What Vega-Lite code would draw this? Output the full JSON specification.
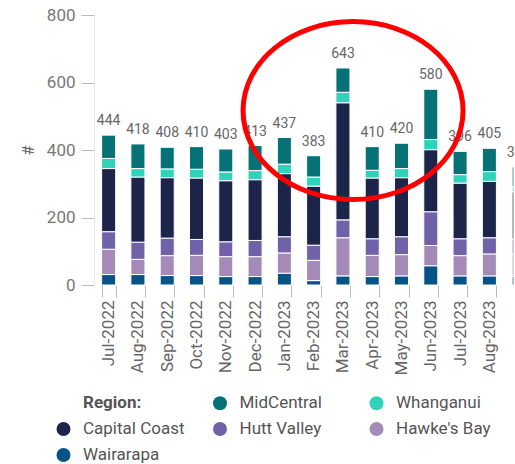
{
  "$schema": "https://vega.github.io/schema/vega-lite/v6.json",
  "width": 420,
  "height": 270,
  "padding": {"left": 20, "top": 6, "right": 0, "bottom": 0},
  "autosize": {"type": "pad"},
  "config": {"view": {"stroke": null}, "font": "Roboto"},
  "datasets": {
    "counts": [
      {"month": "Jul-2022", "region": "Wairarapa", "value": 31},
      {"month": "Jul-2022", "region": "Hawke's Bay", "value": 75},
      {"month": "Jul-2022", "region": "Hutt Valley", "value": 52},
      {"month": "Jul-2022", "region": "Capital Coast", "value": 187},
      {"month": "Jul-2022", "region": "Whanganui", "value": 30},
      {"month": "Jul-2022", "region": "MidCentral", "value": 69},
      {"month": "Aug-2022", "region": "Wairarapa", "value": 31},
      {"month": "Aug-2022", "region": "Hawke's Bay", "value": 45},
      {"month": "Aug-2022", "region": "Hutt Valley", "value": 51},
      {"month": "Aug-2022", "region": "Capital Coast", "value": 193},
      {"month": "Aug-2022", "region": "Whanganui", "value": 25},
      {"month": "Aug-2022", "region": "MidCentral", "value": 73},
      {"month": "Sep-2022", "region": "Wairarapa", "value": 28},
      {"month": "Sep-2022", "region": "Hawke's Bay", "value": 59},
      {"month": "Sep-2022", "region": "Hutt Valley", "value": 52},
      {"month": "Sep-2022", "region": "Capital Coast", "value": 179},
      {"month": "Sep-2022", "region": "Whanganui", "value": 26},
      {"month": "Sep-2022", "region": "MidCentral", "value": 64},
      {"month": "Oct-2022", "region": "Wairarapa", "value": 28},
      {"month": "Oct-2022", "region": "Hawke's Bay", "value": 60},
      {"month": "Oct-2022", "region": "Hutt Valley", "value": 47},
      {"month": "Oct-2022", "region": "Capital Coast", "value": 182},
      {"month": "Oct-2022", "region": "Whanganui", "value": 26},
      {"month": "Oct-2022", "region": "MidCentral", "value": 67},
      {"month": "Nov-2022", "region": "Wairarapa", "value": 25},
      {"month": "Nov-2022", "region": "Hawke's Bay", "value": 59},
      {"month": "Nov-2022", "region": "Hutt Valley", "value": 44},
      {"month": "Nov-2022", "region": "Capital Coast", "value": 181},
      {"month": "Nov-2022", "region": "Whanganui", "value": 26},
      {"month": "Nov-2022", "region": "MidCentral", "value": 68},
      {"month": "Dec-2022", "region": "Wairarapa", "value": 25},
      {"month": "Dec-2022", "region": "Hawke's Bay", "value": 59},
      {"month": "Dec-2022", "region": "Hutt Valley", "value": 48},
      {"month": "Dec-2022", "region": "Capital Coast", "value": 180},
      {"month": "Dec-2022", "region": "Whanganui", "value": 27},
      {"month": "Dec-2022", "region": "MidCentral", "value": 74},
      {"month": "Jan-2023", "region": "Wairarapa", "value": 35},
      {"month": "Jan-2023", "region": "Hawke's Bay", "value": 60},
      {"month": "Jan-2023", "region": "Hutt Valley", "value": 48},
      {"month": "Jan-2023", "region": "Capital Coast", "value": 187},
      {"month": "Jan-2023", "region": "Whanganui", "value": 28},
      {"month": "Jan-2023", "region": "MidCentral", "value": 79},
      {"month": "Feb-2023", "region": "Wairarapa", "value": 13},
      {"month": "Feb-2023", "region": "Hawke's Bay", "value": 60},
      {"month": "Feb-2023", "region": "Hutt Valley", "value": 45},
      {"month": "Feb-2023", "region": "Capital Coast", "value": 175},
      {"month": "Feb-2023", "region": "Whanganui", "value": 27},
      {"month": "Feb-2023", "region": "MidCentral", "value": 63},
      {"month": "Mar-2023", "region": "Wairarapa", "value": 27},
      {"month": "Mar-2023", "region": "Hawke's Bay", "value": 113},
      {"month": "Mar-2023", "region": "Hutt Valley", "value": 53},
      {"month": "Mar-2023", "region": "Capital Coast", "value": 347},
      {"month": "Mar-2023", "region": "Whanganui", "value": 31},
      {"month": "Mar-2023", "region": "MidCentral", "value": 72},
      {"month": "Apr-2023", "region": "Wairarapa", "value": 25},
      {"month": "Apr-2023", "region": "Hawke's Bay", "value": 63},
      {"month": "Apr-2023", "region": "Hutt Valley", "value": 49},
      {"month": "Apr-2023", "region": "Capital Coast", "value": 180},
      {"month": "Apr-2023", "region": "Whanganui", "value": 23},
      {"month": "Apr-2023", "region": "MidCentral", "value": 70},
      {"month": "May-2023", "region": "Wairarapa", "value": 27},
      {"month": "May-2023", "region": "Hawke's Bay", "value": 63},
      {"month": "May-2023", "region": "Hutt Valley", "value": 53},
      {"month": "May-2023", "region": "Capital Coast", "value": 175},
      {"month": "May-2023", "region": "Whanganui", "value": 27},
      {"month": "May-2023", "region": "MidCentral", "value": 75},
      {"month": "Jun-2023", "region": "Wairarapa", "value": 57},
      {"month": "Jun-2023", "region": "Hawke's Bay", "value": 60},
      {"month": "Jun-2023", "region": "Hutt Valley", "value": 100},
      {"month": "Jun-2023", "region": "Capital Coast", "value": 184},
      {"month": "Jun-2023", "region": "Whanganui", "value": 30},
      {"month": "Jun-2023", "region": "MidCentral", "value": 149},
      {"month": "Jul-2023", "region": "Wairarapa", "value": 27},
      {"month": "Jul-2023", "region": "Hawke's Bay", "value": 60},
      {"month": "Jul-2023", "region": "Hutt Valley", "value": 50},
      {"month": "Jul-2023", "region": "Capital Coast", "value": 165},
      {"month": "Jul-2023", "region": "Whanganui", "value": 25},
      {"month": "Jul-2023", "region": "MidCentral", "value": 69},
      {"month": "Aug-2023", "region": "Wairarapa", "value": 27},
      {"month": "Aug-2023", "region": "Hawke's Bay", "value": 65},
      {"month": "Aug-2023", "region": "Hutt Valley", "value": 48},
      {"month": "Aug-2023", "region": "Capital Coast", "value": 167},
      {"month": "Aug-2023", "region": "Whanganui", "value": 29},
      {"month": "Aug-2023", "region": "MidCentral", "value": 69},
      {"month": "Sep-2023", "region": "Wairarapa", "value": 25},
      {"month": "Sep-2023", "region": "Hawke's Bay", "value": 67},
      {"month": "Sep-2023", "region": "Hutt Valley", "value": 44},
      {"month": "Sep-2023", "region": "Capital Coast", "value": 140},
      {"month": "Sep-2023", "region": "Whanganui", "value": 15},
      {"month": "Sep-2023", "region": "MidCentral", "value": 59}
    ],
    "note": [{"month": "Mar-2023", "value": 517}]
  },
  "layer": [
    {
      "data": {"name": "counts"},
      "transform": [
        {"calculate": "indexof(['Wairarapa', 'Hawke\\'s Bay', 'Hutt Valley', 'Capital Coast', 'Whanganui', 'MidCentral'], datum.region)", "as": "stackOrder"}
      ],
      "mark": {"type": "bar", "clip": true, "stroke": "#ffffff", "strokeWidth": 1},
      "encoding": {
        "x": {
          "field": "month",
          "type": "ordinal",
          "scale": {
            "domain": ["Jul-2022", "Aug-2022", "Sep-2022", "Oct-2022", "Nov-2022", "Dec-2022", "Jan-2023", "Feb-2023", "Mar-2023", "Apr-2023", "May-2023", "Jun-2023", "Jul-2023", "Aug-2023", "Sep-2023"],
            "range": [0, 439.3],
            "paddingInner": 0.52,
            "paddingOuter": 0.26
          },
          "axis": {
            "title": null,
            "values": ["Jul-2022", "Aug-2022", "Sep-2022", "Oct-2022", "Nov-2022", "Dec-2022", "Jan-2023", "Feb-2023", "Mar-2023", "Apr-2023", "May-2023", "Jun-2023", "Jul-2023", "Aug-2023"],
            "labelAngle": -90,
            "labelFontSize": 17,
            "labelColor": "#666666",
            "labelPadding": 3,
            "tickBand": "extent",
            "tickSize": 12,
            "tickColor": "#bbbbbb",
            "domain": false
          }
        },
        "y": {
          "field": "value",
          "type": "quantitative",
          "stack": "zero",
          "scale": {"domain": [0, 800]},
          "axis": {
            "title": "#",
            "titleFontSize": 16,
            "titleFontWeight": "normal",
            "titleColor": "#666666",
            "titlePadding": 10,
            "values": [0, 200, 400, 600, 800],
            "labelFontSize": 17,
            "labelColor": "#777777",
            "labelPadding": 6,
            "tickSize": 13,
            "tickColor": "#bbbbbb",
            "domainColor": "#e8e8e8",
            "grid": false
          }
        },
        "color": {
          "field": "region",
          "type": "nominal",
          "scale": {
            "domain": ["Region:", "MidCentral", "Whanganui", "Capital Coast", "Hutt Valley", "Hawke's Bay", "Wairarapa"],
            "range": ["rgba(0,0,0,0)", "#067275", "#30d2ba", "#1d2449", "#6f62a9", "#a48bb7", "#075387"]
          },
          "legend": {
            "title": null,
            "orient": "none",
            "direction": "horizontal",
            "legendX": -39,
            "legendY": 379.5,
            "columns": 3,
            "gridAlign": "all",
            "symbolType": "circle",
            "symbolSize": 196,
            "symbolStrokeWidth": 0,
            "symbolOpacity": 1,
            "labelFontSize": 17,
            "labelColor": "#555555",
            "labelFontWeight": {"expr": "datum.label === 'Region:' ? 'bold' : 'normal'"},
            "labelOffset": 11,
            "labelLimit": 0,
            "rowPadding": 8,
            "columnPadding": 26.5
          }
        },
        "order": {"field": "stackOrder", "type": "quantitative"},
        "opacity": {"condition": {"test": "datum.month === 'Sep-2023'", "value": 0.35}, "value": 1}
      }
    },
    {
      "data": {"name": "counts"},
      "transform": [
        {"aggregate": [{"op": "sum", "field": "value", "as": "total"}], "groupby": ["month"]}
      ],
      "mark": {"type": "text", "clip": true, "dy": -14, "fontSize": 14, "color": "#666666", "baseline": "middle"},
      "encoding": {
        "x": {"field": "month", "type": "ordinal"},
        "y": {"field": "total", "type": "quantitative"},
        "text": {"field": "total", "type": "quantitative"}
      }
    },
    {
      "data": {"name": "note"},
      "mark": {
        "type": "point",
        "shape": "M-1,0A1,0.809,0,1,1,1,0A1,0.809,0,1,1,-1,0Z",
        "size": 48400,
        "filled": false,
        "stroke": "#ff0000",
        "strokeWidth": 5,
        "opacity": 1
      },
      "encoding": {
        "x": {"field": "month", "type": "ordinal", "bandPosition": 1.22},
        "y": {"field": "value", "type": "quantitative"}
      }
    }
  ]
}
